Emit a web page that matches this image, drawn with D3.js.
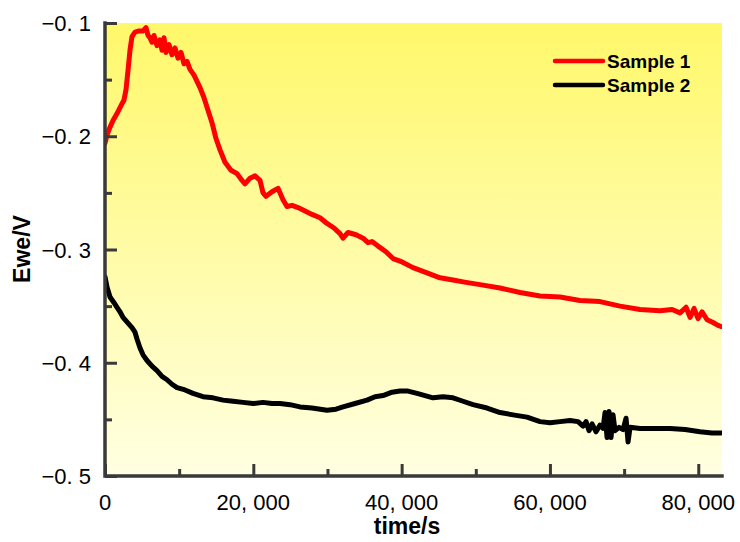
<!DOCTYPE html>
<html>
<head>
<meta charset="utf-8">
<script src="https://cdn.jsdelivr.net/npm/d3@7"></script>
<style>
  html, body { margin: 0; padding: 0; background: #ffffff; }
  svg { display: block; }
  .tick-label { font-family: "Liberation Sans", Arial, sans-serif; font-size: 22px; fill: #000; }
  .axis-title { font-family: "Liberation Sans", Arial, sans-serif; font-weight: bold; font-size: 23px; fill: #000; }
  .legend-text { font-family: "Liberation Sans", Arial, sans-serif; font-weight: bold; font-size: 19px; fill: #000; }
</style>
</head>
<body>
<svg id="chart" width="740" height="542"></svg>
<script>
// ---- data ----
const seriesNames = ["Sample 1", "Sample 2"];
const seriesColors = ["#ff0000", "#000000"];

const sample1Time = [0, 270, 674, 1079, 1618, 2158, 2562, 2832, 3102, 3371, 3641, 4046, 4585, 5125, 5529, 5799, 6069, 6338, 6608, 7012, 7417, 7687, 7957, 8226, 8631, 9036, 9440, 9845, 10249, 10654, 11059, 11463, 12002, 12812, 13351, 13890, 14430, 14969, 15509, 16183, 16992, 17802, 18476, 18880, 19555, 20229, 20903, 21308, 21712, 22521, 23331, 24005, 24545, 25219, 26028, 26972, 27916, 28995, 29939, 30883, 31692, 32097, 32771, 33850, 34794, 35469, 36008, 36817, 37896, 38840, 40054, 41536, 43155, 45178, 46931, 48684, 50572, 53270, 55967, 58664, 61361, 64058, 66755, 69453, 72150, 74847, 76465, 77544, 78353, 78893, 79432, 79972, 80511, 81186, 81860, 82669, 83074];
const sample1Ewe = [-0.206, -0.199, -0.192, -0.186, -0.180, -0.173, -0.168, -0.159, -0.142, -0.124, -0.112, -0.108, -0.107, -0.107, -0.104, -0.111, -0.113, -0.117, -0.111, -0.120, -0.115, -0.124, -0.113, -0.126, -0.119, -0.128, -0.122, -0.131, -0.126, -0.136, -0.134, -0.141, -0.146, -0.157, -0.166, -0.177, -0.188, -0.202, -0.212, -0.223, -0.230, -0.233, -0.239, -0.242, -0.237, -0.235, -0.239, -0.250, -0.253, -0.249, -0.246, -0.256, -0.262, -0.261, -0.263, -0.266, -0.269, -0.272, -0.277, -0.281, -0.286, -0.290, -0.285, -0.287, -0.290, -0.294, -0.293, -0.297, -0.302, -0.308, -0.311, -0.316, -0.320, -0.325, -0.327, -0.329, -0.331, -0.334, -0.338, -0.341, -0.342, -0.345, -0.346, -0.350, -0.353, -0.354, -0.353, -0.356, -0.351, -0.360, -0.352, -0.361, -0.355, -0.362, -0.364, -0.367, -0.368];

const sample2Time = [0, 270, 674, 1214, 1618, 2023, 2428, 3102, 3641, 4046, 4315, 4720, 5125, 5664, 6338, 7012, 7687, 8361, 9036, 9710, 10789, 11868, 13216, 14565, 15913, 17262, 18611, 19960, 21308, 22521, 23600, 24949, 26298, 27916, 29939, 31153, 32097, 33715, 35333, 36412, 37491, 38705, 39784, 40863, 42077, 43155, 44234, 45583, 46931, 48280, 49629, 51517, 53270, 55023, 56911, 58664, 60013, 61361, 62710, 63789, 64463, 64868, 65272, 65677, 66216, 66755, 67160, 67429, 67699, 67969, 68239, 68508, 68778, 69317, 69857, 70262, 70532, 70801, 72150, 74173, 76196, 78219, 80242, 81860, 83074];
const sample2Ewe = [-0.324, -0.333, -0.342, -0.347, -0.351, -0.355, -0.360, -0.365, -0.369, -0.373, -0.379, -0.387, -0.393, -0.398, -0.403, -0.407, -0.412, -0.415, -0.419, -0.422, -0.424, -0.427, -0.430, -0.431, -0.433, -0.434, -0.435, -0.436, -0.435, -0.436, -0.436, -0.437, -0.439, -0.440, -0.442, -0.441, -0.439, -0.436, -0.433, -0.430, -0.429, -0.426, -0.425, -0.425, -0.427, -0.429, -0.431, -0.430, -0.431, -0.434, -0.437, -0.440, -0.444, -0.446, -0.448, -0.452, -0.453, -0.452, -0.451, -0.452, -0.456, -0.452, -0.460, -0.454, -0.461, -0.455, -0.458, -0.444, -0.466, -0.443, -0.466, -0.446, -0.460, -0.457, -0.459, -0.449, -0.470, -0.457, -0.458, -0.458, -0.458, -0.459, -0.461, -0.462, -0.462];

const xMajorTicks = [0, 20000, 40000, 60000, 80000];
const xTickLabels = ["0", "20, 000", "40, 000", "60, 000", "80, 000"];
const xMinorTicks = [10000, 30000, 50000, 70000];
const yMajorTicks = [-0.1, -0.2, -0.3, -0.4, -0.5];
const yTickLabels = ["\u22120. 1", "\u22120. 2", "\u22120. 3", "\u22120. 4", "\u22120. 5"];
const yMinorTicks = [-0.15, -0.25, -0.35, -0.45];
const xDomain = [0, 83200];
const yDomain = [-0.5, -0.1];
const xTitle = "time/s";
const yTitle = "Ewe/V";

// ---- layout ----
const plot = { left: 105, right: 722, top: 23, bottom: 476 };
const svg = d3.select("#chart");

const x = d3.scaleLinear().domain(xDomain).range([plot.left, plot.right]);
const y = d3.scaleLinear().domain(yDomain).range([plot.bottom, plot.top]);

// background gradient
const defs = svg.append("defs");
const grad = defs.append("linearGradient").attr("id", "bg").attr("x1", 0).attr("y1", 0).attr("x2", 0).attr("y2", 1);
grad.append("stop").attr("offset", "0%").attr("stop-color", "#fff86a");
grad.append("stop").attr("offset", "100%").attr("stop-color", "#ffffe2");
svg.append("rect")
  .attr("x", plot.left).attr("y", plot.top)
  .attr("width", plot.right - plot.left).attr("height", plot.bottom - plot.top)
  .attr("fill", "url(#bg)");

defs.append("clipPath").attr("id", "clip").append("rect")
  .attr("x", plot.left).attr("y", plot.top - 5)
  .attr("width", plot.right - plot.left).attr("height", plot.bottom - plot.top + 5);

// lines
const series = [
  { name: seriesNames[0], color: seriesColors[0], data: sample1Time.map((t, i) => [t, sample1Ewe[i]]) },
  { name: seriesNames[1], color: seriesColors[1], data: sample2Time.map((t, i) => [t, sample2Ewe[i]]) }
];
const line = d3.line().x(d => x(d[0])).y(d => y(d[1]));
const g = svg.append("g").attr("clip-path", "url(#clip)");
series.forEach(s => {
  g.append("path").datum(s.data)
    .attr("d", line)
    .attr("fill", "none")
    .attr("stroke", s.color)
    .attr("stroke-width", 5)
    .attr("stroke-linejoin", "round")
    .attr("stroke-linecap", "round");
});

// axes
const axisColor = "#3a3a3a";
const xAxisMajor = d3.axisBottom(x).tickValues(xMajorTicks).tickSize(-12).tickFormat("");
const xAxisMinor = d3.axisBottom(x).tickValues(xMinorTicks).tickSize(-7).tickFormat("");
const yAxisMajor = d3.axisLeft(y).tickValues(yMajorTicks).tickSize(-12).tickFormat("");
const yAxisMinor = d3.axisLeft(y).tickValues(yMinorTicks).tickSize(-7).tickFormat("");

function styleAxis(sel) {
  sel.select(".domain").remove();
  sel.selectAll(".tick line").attr("stroke", axisColor).attr("stroke-width", 3);
}
svg.append("g").attr("transform", `translate(0,${plot.bottom})`).call(xAxisMajor).call(styleAxis);
svg.append("g").attr("transform", `translate(0,${plot.bottom})`).call(xAxisMinor).call(styleAxis);
svg.append("g").attr("transform", `translate(${plot.left},0)`).call(yAxisMajor).call(styleAxis);
svg.append("g").attr("transform", `translate(${plot.left},0)`).call(yAxisMinor).call(styleAxis);

// axis lines (L shape)
svg.append("path")
  .attr("d", `M${plot.left},${plot.top}V${plot.bottom}H${plot.right}`)
  .attr("fill", "none").attr("stroke", axisColor).attr("stroke-width", 3.5)
  .attr("stroke-linecap", "square");

// tick labels
svg.append("g").selectAll("text").data(xMajorTicks).join("text")
  .attr("class", "tick-label")
  .attr("x", d => x(d)).attr("y", 510)
  .attr("text-anchor", "middle")
  .text((d, i) => xTickLabels[i]);
svg.append("g").selectAll("text").data(yMajorTicks).join("text")
  .attr("class", "tick-label")
  .attr("x", 91).attr("y", d => y(d) + 8)
  .attr("text-anchor", "end")
  .text((d, i) => yTickLabels[i]);

// axis titles
svg.append("text").attr("class", "axis-title")
  .attr("x", 407).attr("y", 534).attr("text-anchor", "middle").text(xTitle);
svg.append("text").attr("class", "axis-title")
  .attr("transform", "translate(30,249) rotate(-90)")
  .attr("text-anchor", "middle").text(yTitle);

// legend
const legend = svg.append("g");
series.forEach((s, i) => {
  const ly = 61 + i * 24;
  legend.append("line").attr("x1", 555).attr("x2", 603).attr("y1", ly).attr("y2", ly)
    .attr("stroke", s.color).attr("stroke-width", 4.5).attr("stroke-linecap", "round");
  legend.append("text").attr("class", "legend-text")
    .attr("x", 607).attr("y", ly + 7).text(s.name);
});
</script>
</body>
</html>
